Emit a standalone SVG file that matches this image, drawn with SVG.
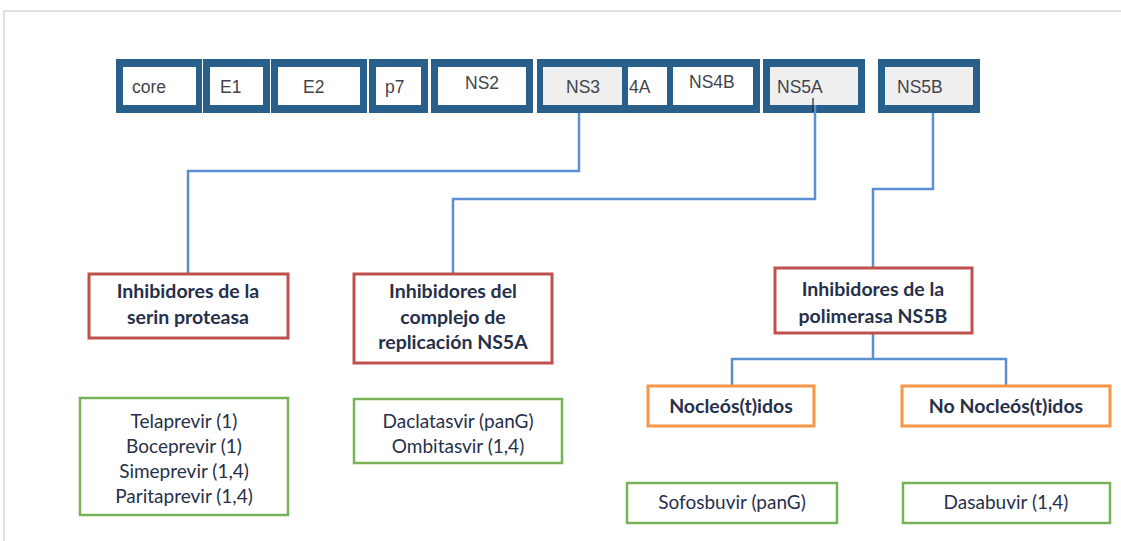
<svg xmlns="http://www.w3.org/2000/svg" width="1121" height="541" viewBox="0 0 1121 541">
<style>
.frame{fill:none;stroke:#d6d6d6;stroke-width:1.5}
.outer{fill:#28608b}
.in{fill:#ffffff}
.ing{fill:#efefef}
.gl{font-family:"Liberation Sans",Arial,sans-serif;font-size:17.5px;fill:#44444c}
.con{fill:none;stroke:#5b8fd2;stroke-width:2.5}
.red{fill:#ffffff;stroke:#c0504d;stroke-width:3}
.org{fill:#ffffff;stroke:#f79646;stroke-width:3}
.grn{fill:#ffffff;stroke:#77b255;stroke-width:2.5}
.t{font-family:Lato,"Liberation Sans",sans-serif;font-weight:bold;font-size:19.5px;fill:#27304a;text-anchor:middle}
.d{font-family:Lato,"Liberation Sans",sans-serif;font-size:19px;fill:#27304a;text-anchor:middle}
</style>
<rect width="1121" height="541" fill="#ffffff"/>
<path class="frame" d="M4,541 V11 H1121"/>
<g id="genome">
<g id="core"><rect class="outer" x="116" y="59" width="86" height="54"/><rect class="in" x="123" y="67" width="73" height="38"/><text class="gl" x="132" y="93">core</text></g>
<g id="E1"><rect class="outer" x="203" y="59" width="67" height="54"/><rect class="in" x="210" y="67" width="53" height="38"/><text class="gl" x="220" y="93">E1</text></g>
<g id="E2"><rect class="outer" x="271" y="59" width="96" height="54"/><rect class="in" x="278" y="67" width="82" height="38"/><text class="gl" x="303" y="93">E2</text></g>
<g id="p7"><rect class="outer" x="369" y="59" width="59" height="54"/><rect class="in" x="376" y="67" width="45" height="38"/><text class="gl" x="385" y="93">p7</text></g>
<g id="NS2"><rect class="outer" x="431" y="59" width="102" height="54"/><rect class="in" x="438" y="67" width="88" height="38"/><text class="gl" x="465" y="89">NS2</text></g>
<g id="NS3-4A-NS4B"><rect class="outer" x="537" y="59" width="223" height="54"/>
<g id="NS3"><rect class="ing" x="543" y="67" width="79" height="38"/><text class="gl" x="566" y="93">NS3</text></g>
<g id="4A"><rect class="in" x="628" y="67" width="39" height="38"/><text class="gl" x="629" y="93">4A</text></g>
<g id="NS4B"><rect class="in" x="673" y="67" width="80" height="38"/><text class="gl" x="689" y="88">NS4B</text></g>
</g>
<g id="NS5A"><rect class="outer" x="763" y="59" width="102" height="54"/><rect class="ing" x="770" y="67" width="88" height="38"/><text class="gl" x="777" y="93">NS5A</text></g>
<g id="NS5B"><rect class="outer" x="878" y="59" width="102" height="54"/><rect class="ing" x="885" y="67" width="88" height="38"/><text class="gl" x="897" y="93">NS5B</text></g>
</g>
<g id="connectors">
<path class="con" d="M579,113 V171 H188 V274"/>
<path class="con" d="M815,105 V199 H453 V274"/>
<path class="con" d="M933,113 V189 H873 V268"/>
<path class="con" d="M873,333 V359 M732,387 V359 H1006 V387"/>
<path d="M813,98 V112" stroke="#222" stroke-width="1.2"/>
</g>
<g id="inh-proteasa"><rect class="red" x="89" y="274" width="199" height="64"/><text class="t" x="188" y="298">Inhibidores de la</text><text class="t" x="188" y="324">serin proteasa</text></g>
<g id="inh-ns5a"><rect class="red" x="354" y="274" width="198" height="89"/><text class="t" x="453" y="298">Inhibidores del</text><text class="t" x="453" y="324">complejo de</text><text class="t" x="453" y="349">replicación NS5A</text></g>
<g id="inh-polimerasa"><rect class="red" x="775" y="268" width="197" height="65"/><text class="t" x="873" y="296">Inhibidores de la</text><text class="t" x="873" y="323">polimerasa NS5B</text></g>
<g id="nucleos"><rect class="org" x="648" y="386" width="166" height="40"/><text class="t" x="731" y="413">Nocleós(t)idos</text></g>
<g id="no-nucleos"><rect class="org" x="902" y="386" width="208" height="40"/><text class="t" x="1006" y="413">No Nocleós(t)idos</text></g>
<g id="drugs-proteasa"><rect class="grn" x="80" y="398" width="208" height="117"/><text class="d" x="184" y="428">Telaprevir (1)</text><text class="d" x="184" y="453">Boceprevir (1)</text><text class="d" x="184" y="478">Simeprevir (1,4)</text><text class="d" x="184" y="503">Paritaprevir (1,4)</text></g>
<g id="drugs-ns5a"><rect class="grn" x="354" y="399" width="208" height="64"/><text class="d" x="458" y="428">Daclatasvir (panG)</text><text class="d" x="458" y="453">Ombitasvir (1,4)</text></g>
<g id="sofosbuvir"><rect class="grn" x="627" y="483" width="210" height="40"/><text class="d" x="732" y="509">Sofosbuvir (panG)</text></g>
<g id="dasabuvir"><rect class="grn" x="903" y="483" width="207" height="40"/><text class="d" x="1006" y="509">Dasabuvir (1,4)</text></g>
</svg>
